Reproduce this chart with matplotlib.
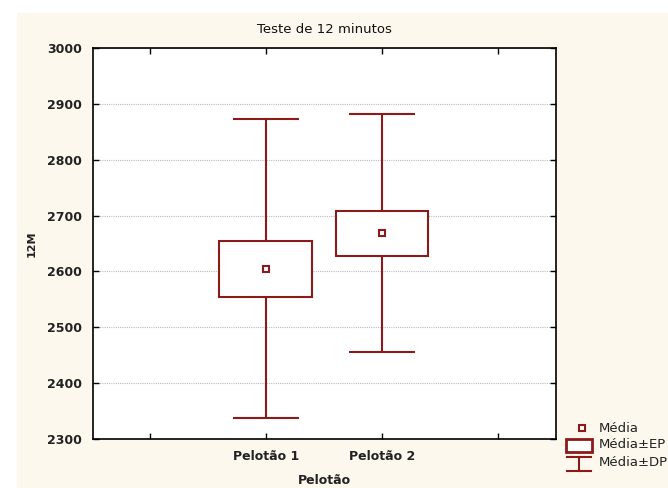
import matplotlib
matplotlib.use("Agg")
import matplotlib.pyplot as plt
from matplotlib.patches import Rectangle
from matplotlib.lines import Line2D

# Teste de 12 minutos: média, erro padrão e desvio padrão por pelotão
grupos = ["Pelotão 1", "Pelotão 2"]
media = [2605, 2668]
ep = [50, 40]
dp = [267, 213]

cor = "#8B1A1A"
creme = "#FDF8EE"
plt.rcParams["font.family"] = ["DejaVu Sans"]

W, H = 668, 488
fig = plt.figure(figsize=(W / 100, H / 100), dpi=100, facecolor="white")


def fx(px):
    return px / W


def fy(py):
    return 1 - py / H


# fundo creme (deixa uma faixa branca em cima e à esquerda)
fig.add_artist(Rectangle((fx(17), 0), 1, fy(13), transform=fig.transFigure,
                         facecolor=creme, edgecolor="none", zorder=-10))

ax = fig.add_axes([fx(93), fy(439), fx(463), 391 / H])
ax.set_facecolor("white")

pos = [1, 2]
larg_caixa = 0.8
larg_cap = 0.57
for x, m, e, d in zip(pos, media, ep, dp):
    ax.vlines(x, m - d, m - e, color=cor, lw=1.5, zorder=3)
    ax.vlines(x, m + e, m + d, color=cor, lw=1.5, zorder=3)
    ax.hlines([m - d, m + d], x - larg_cap / 2, x + larg_cap / 2, color=cor, lw=1.5, zorder=3)
    ax.add_patch(Rectangle((x - larg_caixa / 2, m - e), larg_caixa, 2 * e,
                           facecolor="white", edgecolor=cor, lw=1.5, zorder=3))
    ax.plot(x, m, marker="s", ms=4.5, mfc="white", mec=cor, mew=1.5, zorder=4)

ax.set_xlim(-0.49, 3.5)
ax.set_ylim(2300, 3000)
ax.set_xticks([0, 1, 2, 3])
ax.set_xticklabels(["", grupos[0], grupos[1], ""], fontsize=9, fontweight="bold",
                   color="#222222")
ax.set_yticks(range(2300, 3001, 100))
ax.set_yticklabels([str(v) for v in range(2300, 3001, 100)], fontsize=9,
                   fontweight="bold", color="#222222")
ax.tick_params(direction="in", top=True, right=True, length=4, width=1, pad=8)
ax.yaxis.grid(True, color="#BBBBBB", ls=(0, (1, 1)), lw=0.8)
ax.set_axisbelow(True)
for s in ax.spines.values():
    s.set_linewidth(1.2)
    s.set_color("black")

ax.set_title("Teste de 12 minutos", fontsize=9.5, pad=11, color="#111111")
ax.set_ylabel("12M", fontsize=8, fontweight="bold", color="#222222", va="center")
ax.yaxis.set_label_coords(fx(32 - 93) * W / 463, 0.5)
ax.set_xlabel("Pelotão", fontsize=9, fontweight="bold", color="#222222", va="center")
ax.xaxis.set_label_coords(0.5, (439 - 481) / 391)

# legenda desenhada à mão
fig.add_artist(Line2D([fx(582)], [fy(428)], transform=fig.transFigure, ls="none",
                      marker="s", ms=4.5, mfc="white", mec=cor, mew=1.5))
fig.add_artist(Rectangle((fx(566), fy(452)), fx(26), 13 / H, transform=fig.transFigure,
                         facecolor="white", edgecolor=cor, lw=2))
for yy in (457, 471):
    fig.add_artist(Line2D([fx(567), fx(591)], [fy(yy), fy(yy)],
                          transform=fig.transFigure, color=cor, lw=1.5))
fig.add_artist(Line2D([fx(579), fx(579)], [fy(457), fy(471)],
                      transform=fig.transFigure, color=cor, lw=1.5))
for yy, txt in zip((428, 445, 463), ["Média", "Média±EP", "Média±DP"]):
    fig.text(fx(599), fy(yy), txt, fontsize=9.5, va="center", ha="left", color="#222222")

fig.savefig("out.png", dpi=100, facecolor=fig.get_facecolor())
